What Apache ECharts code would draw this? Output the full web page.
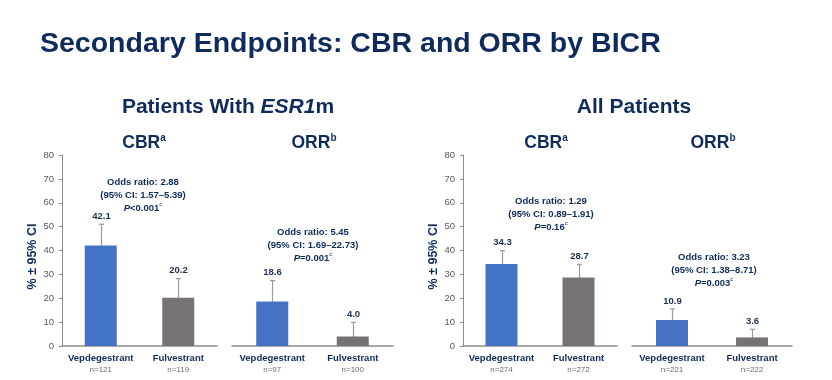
<!DOCTYPE html>
<html><head><meta charset="utf-8">
<script src="https://cdn.jsdelivr.net/npm/echarts@6/dist/echarts.min.js"></script>
<style>html,body{margin:0;padding:0;background:#fff}#c{width:832px;height:380px}</style>
</head><body><div id="c"></div>
<script>
// ---- data ----
const categories = ['Vepdegestrant', 'Fulvestrant'];
const yTicks = [0, 10, 20, 30, 40, 50, 60, 70, 80];

const esr1CbrValues = [42.1, 20.2];
const esr1CbrLow = [33.9, 13.8];
const esr1CbrHigh = [51.0, 28.2];
const esr1CbrN = ['n=121', 'n=119'];

const esr1OrrValues = [18.6, 4.0];
const esr1OrrLow = [12.0, 1.1];
const esr1OrrHigh = [27.4, 9.9];
const esr1OrrN = ['n=97', 'n=100'];

const allCbrValues = [34.3, 28.7];
const allCbrLow = [28.6, 23.7];
const allCbrHigh = [39.9, 34.2];
const allCbrN = ['n=274', 'n=272'];

const allOrrValues = [10.9, 3.6];
const allOrrLow = [7.3, 1.8];
const allOrrHigh = [15.5, 7.0];
const allOrrN = ['n=221', 'n=222'];

const esr1CbrStats = ['Odds ratio: 2.88', '(95% CI: 1.57–5.39)', 'P', '<0.001', 'c'];
const esr1OrrStats = ['Odds ratio: 5.45', '(95% CI: 1.69–22.73)', 'P', '=0.001', 'c'];
const allCbrStats = ['Odds ratio: 1.29', '(95% CI: 0.89–1.91)', 'P', '=0.16', 'c'];
const allOrrStats = ['Odds ratio: 3.23', '(95% CI: 1.38–8.71)', 'P', '=0.003', 'c'];

// ---- styling ----
const NAVY = '#0E2B5C';
const BLUE = '#4472C4';
const GRAY = '#787373';
const AXIS = '#8C8C8C';
const ERR = '#9A9A9A';
const FONT = '"Liberation Sans", Arial, sans-serif';

const panels = [
  { vals: esr1CbrValues, low: esr1CbrLow, high: esr1CbrHigh, n: esr1CbrN, stats: esr1CbrStats, left: 62, width: 155, showY: true, sx: 143, sy: 195 },
  { vals: esr1OrrValues, low: esr1OrrLow, high: esr1OrrHigh, n: esr1OrrN, stats: esr1OrrStats, left: 232, width: 161, showY: false, sx: 313, sy: 245 },
  { vals: allCbrValues, low: allCbrLow, high: allCbrHigh, n: allCbrN, stats: allCbrStats, left: 463, width: 154, showY: true, sx: 551, sy: 214 },
  { vals: allOrrValues, low: allOrrLow, high: allOrrHigh, n: allOrrN, stats: allOrrStats, left: 632, width: 160, showY: false, sx: 714, sy: 270 }
];

const grid = [], xAxis = [], yAxis = [], series = [], graphic = [];

panels.forEach((p, i) => {
  grid.push({ left: p.left, width: p.width, top: 155, height: 191, containLabel: false });
  xAxis.push({
    type: 'category', gridIndex: i, data: categories,
    axisLine: { lineStyle: { color: AXIS, width: 1.5 } },
    axisTick: { show: false },
    axisLabel: {
      margin: 6, interval: 0,
      formatter: (v, idx) => '{a|' + v + '}\n{b|' + p.n[idx] + '}',
      rich: {
        a: { fontFamily: FONT, fontWeight: 'bold', fontSize: 9.5, color: NAVY, lineHeight: 12 },
        b: { fontFamily: FONT, fontSize: 8, color: '#6b6b6b', lineHeight: 12 }
      }
    }
  });
  yAxis.push({
    type: 'value', gridIndex: i, min: 0, max: 80, interval: 10, show: p.showY,
    name: p.showY ? '% ± 95% CI' : '', nameLocation: 'middle', nameGap: 22, nameRotate: 90,
    nameTextStyle: { fontFamily: FONT, fontWeight: 'bold', fontSize: 12.5, color: NAVY, padding: [0, 12, 0, 0] },
    axisLine: { show: true, lineStyle: { color: AXIS, width: 1 } },
    axisTick: { show: true, length: 3, lineStyle: { color: AXIS } },
    splitLine: { show: false },
    axisLabel: { fontFamily: FONT, fontSize: 9.5, color: '#595959', margin: 8,
      formatter: v => yTicks.indexOf(v) >= 0 ? String(v) : '' }
  });
  series.push({
    type: 'bar', xAxisIndex: i, yAxisIndex: i, barWidth: 32,
    data: p.vals.map((v, k) => ({ value: v, itemStyle: { color: k === 0 ? BLUE : GRAY } })),
    silent: true, animation: false
  });
  series.push({
    type: 'custom', xAxisIndex: i, yAxisIndex: i, animation: false, silent: true,
    data: p.vals.map((v, k) => [k, p.low[k], p.high[k], v]),
    renderItem: (params, api) => {
      const top = api.coord([api.value(0), api.value(2)]);
      const bot = api.coord([api.value(0), api.value(1)]);
      const x = Math.round(top[0]) + 0.5;
      const cap = 2.5;
      const ls = { stroke: ERR, lineWidth: 1.2 };
      return {
        type: 'group', children: [
          { type: 'line', shape: { x1: x, y1: top[1], x2: x, y2: bot[1] }, style: ls },
          { type: 'line', shape: { x1: x - cap, y1: top[1], x2: x + cap, y2: top[1] }, style: ls },
          { type: 'line', shape: { x1: x - cap, y1: bot[1], x2: x + cap, y2: bot[1] }, style: ls },
          { type: 'text', x: x, y: top[1] - 3,
            style: { text: api.value(3).toFixed(1), fill: '#1F2F4F', font: 'bold 9.5px ' + FONT,
              textAlign: 'center', textVerticalAlign: 'bottom' } }
        ]
      };
    }
  });
  graphic.push({
    type: 'text', x: p.sx, y: p.sy,
    style: {
      text: '{s|' + p.stats[0] + '}\n{s|' + p.stats[1] + '}\n{i|' + p.stats[2] + '}{s|' + p.stats[3] + '}{sup|' + p.stats[4] + '}',
      textAlign: 'center', textVerticalAlign: 'middle',
      rich: {
        s: { fontFamily: FONT, fontWeight: 'bold', fontSize: 9.5, fill: NAVY, lineHeight: 13 },
        i: { fontFamily: FONT, fontWeight: 'bold', fontStyle: 'italic', fontSize: 9.5, fill: NAVY, lineHeight: 13 },
        sup: { fontFamily: FONT, fontSize: 6, fill: NAVY, lineHeight: 13, verticalAlign: 'top', padding: [0, 0, 4, 0] }
      }
    }
  });
});

function hdr(text, x, y, size) {
  return { type: 'text', x: x, y: y, style: { text: text, textAlign: 'center', textVerticalAlign: 'middle', fill: NAVY, font: 'bold ' + size + 'px ' + FONT } };
}
function sub(main, sup, x, y) {
  return { type: 'text', x: x, y: y, style: {
    text: '{m|' + main + '}{s|' + sup + '}', textAlign: 'center', textVerticalAlign: 'middle',
    rich: {
      m: { fontFamily: FONT, fontWeight: 'bold', fontSize: 17.5, fill: NAVY, lineHeight: 20 },
      s: { fontFamily: FONT, fontWeight: 'bold', fontSize: 10, fill: NAVY, lineHeight: 20, verticalAlign: 'top', padding: [0, 0, 8, 0] }
    } } };
}

graphic.push({ type: 'text', x: 40, y: 44, style: { text: 'Secondary Endpoints: CBR and ORR by BICR', fill: NAVY, font: 'bold 28.5px ' + FONT, textVerticalAlign: 'middle' } });
graphic.push({ type: 'text', x: 228, y: 107, style: {
  text: '{n|Patients With }{it|ESR1}{n|m}', textAlign: 'center', textVerticalAlign: 'middle',
  rich: {
    n: { fontFamily: FONT, fontWeight: 'bold', fontSize: 21, fill: NAVY },
    it: { fontFamily: FONT, fontWeight: 'bold', fontStyle: 'italic', fontSize: 21, fill: NAVY }
  } } });
graphic.push(hdr('All Patients', 634, 107, 21));
graphic.push(sub('CBR', 'a', 144, 143));
graphic.push(sub('ORR', 'b', 314, 143));
graphic.push(sub('CBR', 'a', 546, 143));
graphic.push(sub('ORR', 'b', 713, 143));

const chart = echarts.init(document.getElementById('c'), null, { renderer: 'canvas' });
chart.setOption({ animation: false, backgroundColor: '#fff', grid, xAxis, yAxis, series, graphic });
</script></body></html>
